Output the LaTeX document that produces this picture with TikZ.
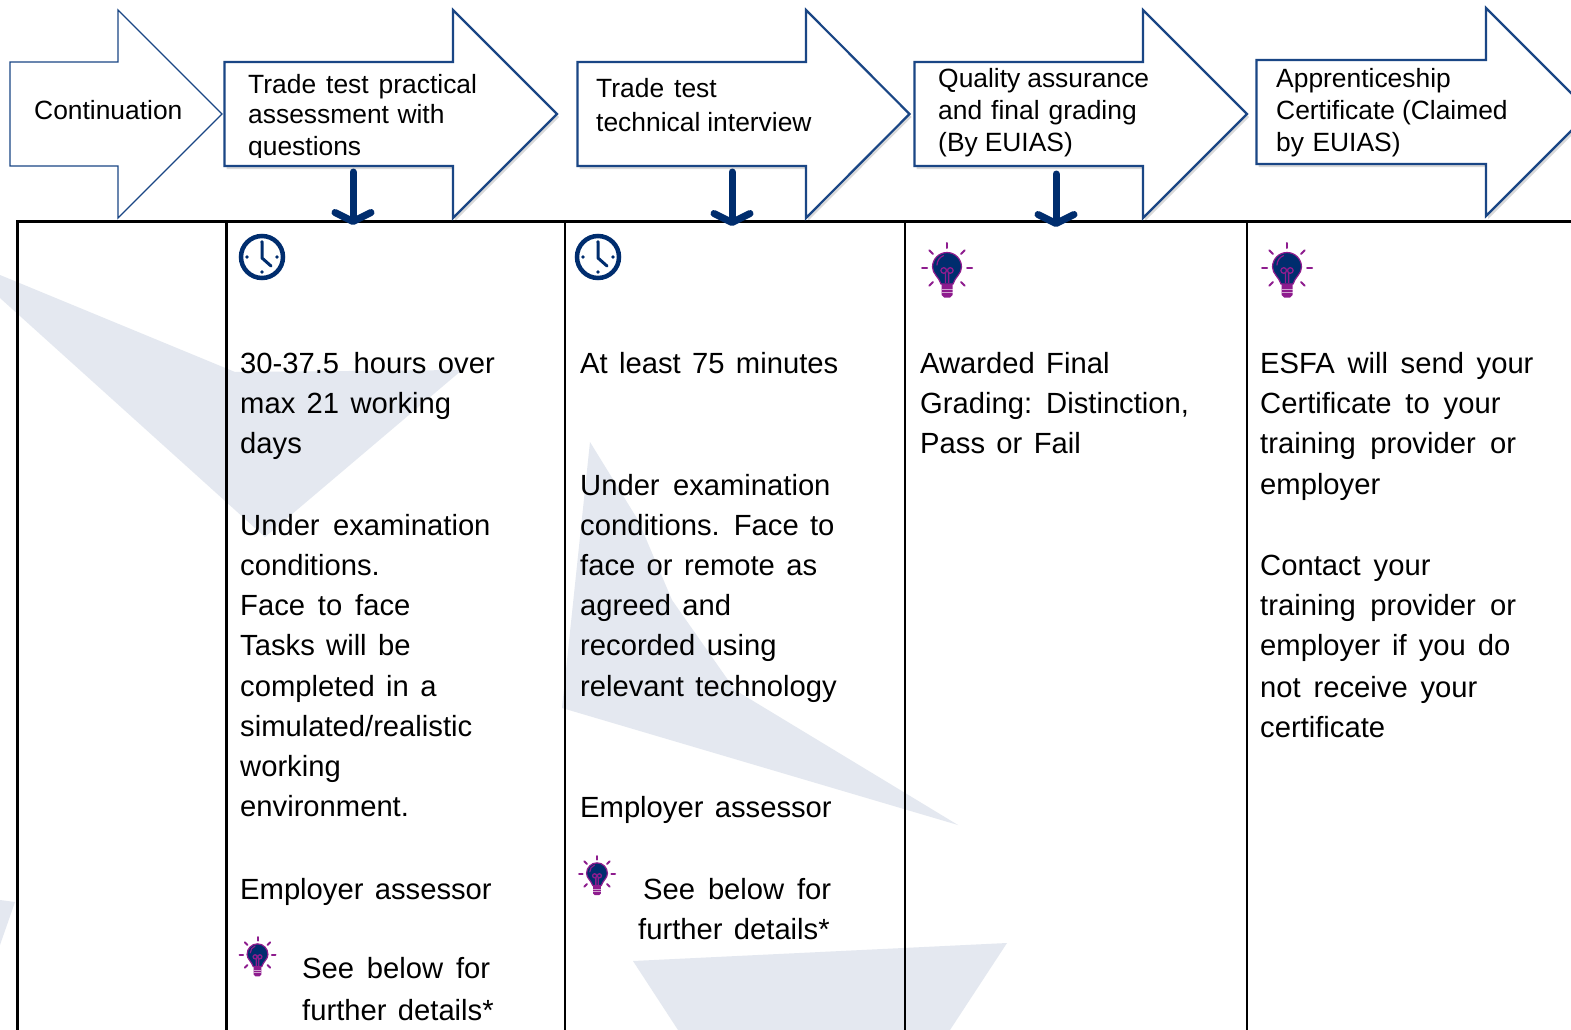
\documentclass[tikz,border=0pt]{standalone}
\usepackage{fontspec}
\setmainfont[WordSpace=1.4]{Liberation Sans}
\usetikzlibrary{arrows.meta,shadows}
\definecolor{navy}{HTML}{002D6E}
\definecolor{outline}{HTML}{1A4685}
\definecolor{wm}{HTML}{E4E8F0}
\definecolor{bulbp}{HTML}{8E1C8E}
\tikzset{
  watermark/.style={fill=wm,draw=none},
  hdrplain/.style={draw=outline,line width=1.3pt,fill=white,line join=miter},
  hdrbold/.style={draw=outline,line width=2.2pt,fill=white,line join=miter,
    drop shadow={shadow xshift=2pt,shadow yshift=-3pt,opacity=.15,fill=black}},
  hdrtext/.style={anchor=north west,inner sep=0pt,align=left,
    font=\fontsize{26.4}{32}\selectfont,execute at begin node={\spaceskip=7pt\rule{0pt}{21pt}}},
  bodytext/.style={anchor=north west,inner sep=0pt,align=left,
    font=\fontsize{29.2}{40}\selectfont,execute at begin node={\rule{0pt}{24pt}}},
  gridline/.style={draw=black,line width=3pt},
  link/.style={draw=navy,line width=7pt,line cap=round,
    -{Straight Barb[length=9pt,width=36pt,round]}},
  clockicon/.pic={
    \draw[navy,line width=4.5pt] (0,0) circle[radius=21];
    \foreach \a in {0,90,180,270}
      \fill[navy] (\a:15) circle[radius=1.8];
    \draw[navy,line width=3pt,line cap=round,line join=round] (0,-14) -- (0,1) -- (9,9);
  },
  bulbicon/.pic={
    \foreach \a in {-90,-45,-135,0,180,45,135}
      \draw[bulbp,line width=2pt,line cap=round] (\a:20) -- (\a:25);
    \fill[bulbp] (-5.5,14) -- (5.5,14) -- (5.5,27) -- (3,29.5) -- (-3,29.5) -- (-5.5,27) -- cycle;
    \draw[bulbp,line width=1.2pt,fill=navy] (-6,16) .. controls (-8,9) and (-14.5,6) .. (-14.5,-1)
       arc[start angle=180,end angle=360,radius=14.5]
       .. controls (14.5,6) and (8,9) .. (6,16) -- cycle;
    \draw[bulbp,line width=1.3pt] (-3.3,2.5) circle[radius=2.8] (3.3,2.5) circle[radius=2.8]
       (-1.6,5) -- (-1.6,15) (1.6,5) -- (1.6,15);
    \draw[bulbp,line width=1.2pt,line cap=round] (-10,-3) arc[start angle=180,end angle=250,radius=10];
    \draw[white,line width=.6pt,opacity=.6] (-5.5,21) -- (5.5,21) (-5.5,24.5) -- (5.5,24.5);
  },
}
\newcommand\hdrarrow[6]{% name, style, left, neck, tip, dy
  \draw[#2] (#3,62+#6) -- (#4,62+#6) -- (#4,10+#6) -- (#5,114+#6) -- (#4,218+#6) -- (#4,166+#6) -- (#3,166+#6) -- cycle;
}
\begin{document}
\begin{tikzpicture}[x=1pt,y=-1pt]
\clip (0,0) rectangle (1571,1030);
\fill[white] (0,0) rectangle (1571,1030);
% watermark
\fill[watermark] (0,275) -- (235,372) -- (462,370) -- (265,537) -- (0,298) -- cycle;
\fill[watermark] (590,442) -- (638,520) -- (672,600) -- (735,690) -- (958,825) -- (562,708) -- cycle;
\fill[watermark] (633,961) -- (1007,943) -- (950,1030) -- (678,1030) -- cycle;
\fill[watermark] (0,900) -- (15,902) -- (0,945) -- cycle;
% table grid
\draw[gridline] (17,1030) -- (17,221) -- (1571,221);
\draw[gridline] (226,221) -- (226,1030);
\draw[gridline,line width=2.5pt] (565,221) -- (565,1030);
\draw[gridline,line width=2.5pt] (905,221) -- (905,1030);
\draw[gridline,line width=2.5pt] (1247,221) -- (1247,1030);
% header arrows
\hdrarrow{a1}{hdrplain}{10}{118}{222}{0}
\hdrarrow{a2}{hdrbold}{224.5}{453}{557}{0}
\hdrarrow{a3}{hdrbold}{577.5}{806}{909.5}{0}
\hdrarrow{a4}{hdrbold}{914.5}{1143}{1247}{0}
\hdrarrow{a5}{hdrbold}{1256.5}{1486}{1590}{-2}
\node[hdrtext] (h1) at (34,98.5) {Continuation};
\begin{scope}
\clip (224,60) rectangle (480,157.5);
\node[hdrtext] (h2) at (248,74) {Trade\hspace{3pt} test\hspace{3pt} practical\\[-1.5pt]assessment\hspace{1.5pt} with\\questions};
\end{scope}
\node[hdrtext] (h3) at (596,78) {Trade\hspace{3pt} test\\[2pt]technical interview};
\node[hdrtext] (h4) at (938,68) {Quality assurance\\and\hspace{2pt} final\hspace{2pt} grading\\(By EUIAS)};
\node[hdrtext] (h5) at (1276,68) {Apprenticeship\\Certificate (Claimed\\by\hspace{1.5pt} EUIAS)};
% connectors
\coordinate (c2s) at (353,172); \coordinate (c2e) at (353,225);
\coordinate (c3s) at (732,172); \coordinate (c3e) at (732,226);
\coordinate (c4s) at (1056,174); \coordinate (c4e) at (1056,227);
\draw[link] (c2s) -- (c2e);
\draw[link] (c3s) -- (c3e);
\draw[link] (c4s) -- (c4e);
% icons
\pic at (262,257) {clockicon};
\pic at (598,257) {clockicon};
\pic at (947,268) {bulbicon};
\pic at (1287,268) {bulbicon};
\pic[scale=.72] at (257.5,955) {bulbicon};
\pic[scale=.72] at (597,874) {bulbicon};
% column 2
\node[bodytext] (b21) at (240,352) {30-37.5\hspace{3pt} hours over\\max 21 working\\days};
\node[bodytext] (b22) at (240,514) {Under\hspace{2pt} examination\\conditions.\\Face\hspace{1.5pt} to\hspace{1.5pt} face\\Tasks will be\\[1.5pt]completed in a\\simulated/realistic\\working\\environment.};
\node[bodytext] (b23) at (240,875) {Employer assessor};
\node[bodytext] (b24) at (302,957) {See\hspace{1.5pt} below\hspace{1.5pt} for\\[2pt]further details*};
% column 3
\node[bodytext] (b31) at (580,349) {At least 75 minutes};
\node[bodytext] (b32) at (580,474) {Under\hspace{2pt} examination\\conditions. Face to\\face or remote as\\agreed and\\recorded using\\[1.5pt]relevant technology};
\node[bodytext] (b33) at (580,793) {Employer assessor};
\node[bodytext] (b34) at (638,878) {\hspace*{5pt}See\hspace{1.5pt} below\hspace{1.5pt} for\\further details*};
% column 4
\node[bodytext] (b41) at (920,352) {Awarded Final\\Grading: Distinction,\\Pass or Fail};
% column 5
\node[bodytext] (b51) at (1260,352) {ESFA\hspace{1.3pt} will\hspace{1.3pt} send\hspace{1.3pt} your\\Certificate\hspace{2.5pt} to\hspace{2.5pt} your\\training\hspace{3pt} provider\hspace{3pt} or\\[1.5pt]employer};
\node[bodytext] (b52) at (1260,555) {Contact\hspace{1.5pt} your\\training\hspace{3pt} provider\hspace{3pt} or\\employer\hspace{.6pt} if\hspace{.6pt} you\hspace{.6pt} do\\[1.5pt]not\hspace{1.5pt} receive\hspace{1.5pt} your\\certificate};
\end{tikzpicture}
\end{document}
